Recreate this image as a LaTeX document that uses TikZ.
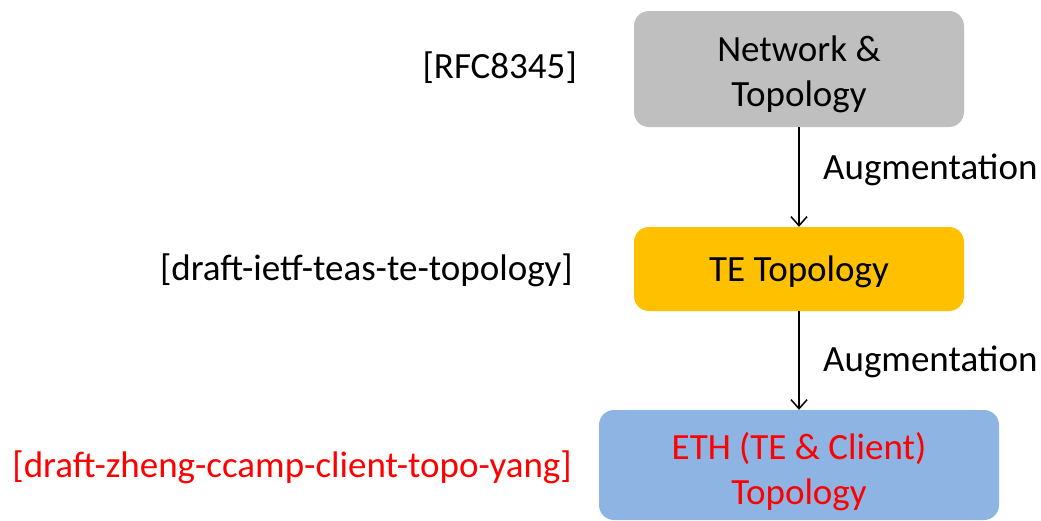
\documentclass[tikz,border=0pt]{standalone}
\usepackage{fontspec}
\setmainfont{Carlito}
\usetikzlibrary{arrows.meta}
\definecolor{boxgray}{HTML}{BFBFBF}
\definecolor{boxgold}{HTML}{FFC000}
\definecolor{boxblue}{HTML}{8EB4E3}
\definecolor{textred}{HTML}{FF0000}
\tikzset{
  box/.style={rounded corners=15pt, inner sep=0pt},
  boxtext/.style={align=center, inner sep=0pt, font=\fontsize{37}{45}\selectfont},
  reflabel/.style={anchor=east, inner sep=0pt, font=\fontsize{37}{44}\selectfont},
  auglabel/.style={anchor=west, inner sep=0pt, font=\fontsize{37}{44}\selectfont},
  conn/.style={-{Straight Barb[length=9pt,width=16pt]}, line width=1.5pt},
}
\begin{document}
\begin{tikzpicture}[x=1pt,y=-1pt]
\useasboundingbox (0,0) rectangle (1041,520);
\clip (0,0) rectangle (1041,520);
\node[box, fill=boxgray, minimum width=330pt, minimum height=116pt] (net) at (799,69) {};
\node[boxtext] (nettext) at (799,74) {Network \&\\Topology};
\node[box, fill=boxgold, minimum width=330pt, minimum height=84pt] (te) at (799,269) {};
\node[boxtext] (tetext) at (799,272) {TE Topology};
\node[box, fill=boxblue, minimum width=400pt, minimum height=110pt] (eth) at (799,465) {};
\node[boxtext, text=textred] (ethtext) at (799,472) {ETH (TE \& Client)\\Topology};
\draw[conn] (net.south) -- (te.north);
\draw[conn] (te.south) -- (eth.north);
\node[auglabel] (aug1) at (823,170) {Augmentation};
\node[auglabel] (aug2) at (823,362) {Augmentation};
\node[reflabel] (r1) at (577,68) {[RFC8345]};
\node[reflabel] (r2) at (573,270) {[draft-ietf-teas-te-topology]};
\node[reflabel, text=textred] (r3) at (572,467) {[draft-zheng-ccamp-client-topo-yang]};
\end{tikzpicture}
\end{document}
